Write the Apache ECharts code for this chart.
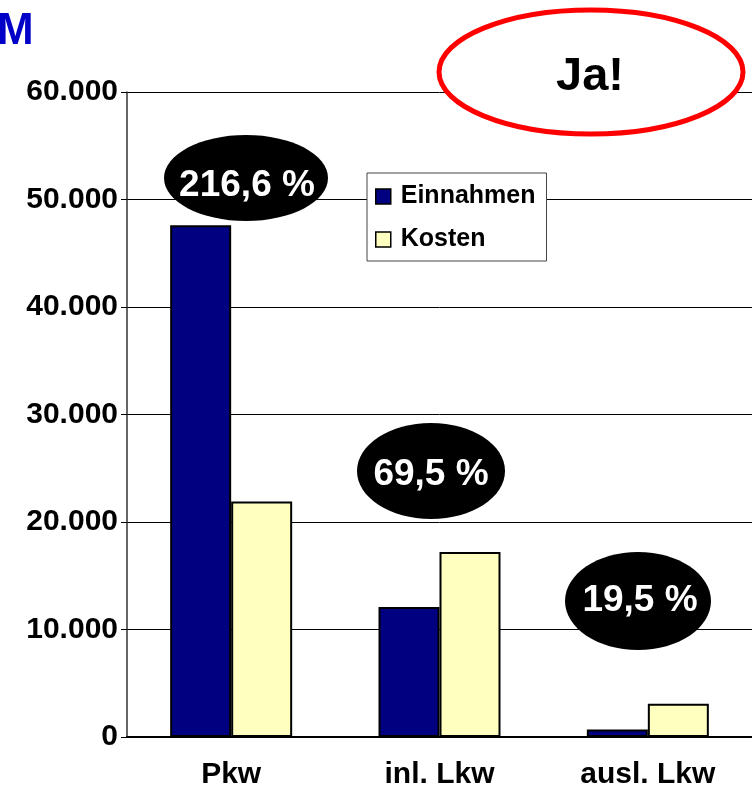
<!DOCTYPE html>
<html>
<head>
<meta charset="utf-8">
<script src="https://cdn.jsdelivr.net/npm/echarts@6/dist/echarts.min.js"></script>
<style>
  html, body { margin: 0; padding: 0; background: #fff; }
  #chart { width: 752px; height: 790px; }
</style>
</head>
<body>
<div id="chart"></div>
<script>
// data
const categories = ['Pkw', 'inl. Lkw', 'ausl. Lkw'];
const einnahmen = [47600, 12100, 700];
const kosten = [21900, 17200, 3100];
const yTicks = [0, 10000, 20000, 30000, 40000, 50000, 60000];
const ratioLabels = ['216,6 %', '69,5 %', '19,5 %'];

const FONT = 'Arial, "Liberation Sans", sans-serif';

const chart = echarts.init(document.getElementById('chart'));

// hand-placed call-out bubbles (like in the slide)
const bubbles = [
  { cx: 246, cy: 178, rx: 82, ry: 43, tx: 247, ty: 186 },
  { cx: 431, cy: 471, rx: 74, ry: 48, tx: 431, ty: 475 },
  { cx: 638, cy: 601, rx: 73, ry: 49, tx: 640, ty: 601 }
];

const graphic = [];
bubbles.forEach((b, i) => {
  graphic.push({
    type: 'ellipse',
    z: 100,
    shape: { cx: b.cx, cy: b.cy, rx: b.rx, ry: b.ry },
    style: { fill: '#000' }
  });
  graphic.push({
    type: 'text',
    z: 101,
    x: b.tx,
    y: b.ty,
    style: {
      text: ratioLabels[i],
      fill: '#fff',
      font: 'bold 37px ' + FONT,
      align: 'center',
      verticalAlign: 'middle'
    }
  });
});
graphic.push({
  type: 'ellipse',
  z: 100,
  shape: { cx: 591, cy: 72, rx: 152, ry: 62 },
  style: { fill: '#fff', stroke: '#ff0000', lineWidth: 5 }
});
graphic.push({
  type: 'text',
  z: 101,
  x: 590,
  y: 77,
  style: { text: 'Ja!', fill: '#000', font: 'bold 47px ' + FONT, align: 'center', verticalAlign: 'middle' }
});
graphic.push({
  type: 'text',
  z: 101,
  x: -3,
  y: 32,
  style: { text: 'M', fill: '#0000c8', font: 'bold 44px ' + FONT, align: 'left', verticalAlign: 'middle' }
});

const option = {
  animation: false,
  backgroundColor: '#fff',
  grid: { left: 127, top: 92, width: 632, height: 645 },
  legend: {
    orient: 'vertical',
    left: 367,
    top: 173,
    padding: [11, 11, 9, 8],
    itemGap: 18,
    itemWidth: 15,
    itemHeight: 15,
    icon: 'rect',
    backgroundColor: '#fff',
    borderColor: '#444',
    borderWidth: 1,
    z: 50,
    itemStyle: { borderColor: '#000', borderWidth: 1.5 },
    textStyle: { fontFamily: FONT, fontWeight: 'bold', fontSize: 25, color: '#000', padding: [0, 0, 0, 5] },
    data: ['Einnahmen', 'Kosten']
  },
  xAxis: {
    type: 'category',
    data: categories,
    axisLine: { lineStyle: { color: '#000', width: 2 } },
    axisTick: { length: 7, lineStyle: { color: '#333', width: 1.5 } },
    axisLabel: { color: '#000', fontFamily: FONT, fontWeight: 'bold', fontSize: 30, margin: 23 }
  },
  yAxis: {
    type: 'value',
    min: 0,
    max: 60000,
    interval: 10000,
    axisLine: { show: true, lineStyle: { color: '#333', width: 1.5 } },
    axisTick: { show: true, length: 6, lineStyle: { color: '#000' } },
    splitLine: { lineStyle: { color: '#000', width: 1 } },
    axisLabel: {
      color: '#000',
      fontFamily: FONT,
      fontWeight: 'bold',
      fontSize: 30,
      margin: 9,
      formatter: v => yTicks.includes(v) ? v.toLocaleString('de-DE') : ''
    }
  },
  series: [
    {
      name: 'Einnahmen',
      type: 'bar',
      data: einnahmen,
      barWidth: 61,
      barGap: '0%',
      itemStyle: { color: '#000080', borderColor: '#000', borderWidth: 2 }
    },
    {
      name: 'Kosten',
      type: 'bar',
      data: kosten,
      barWidth: 61,
      barGap: '0%',
      itemStyle: { color: '#ffffc0', borderColor: '#000', borderWidth: 2 }
    }
  ],
  graphic: graphic
};

chart.setOption(option);
</script>
</body>
</html>
